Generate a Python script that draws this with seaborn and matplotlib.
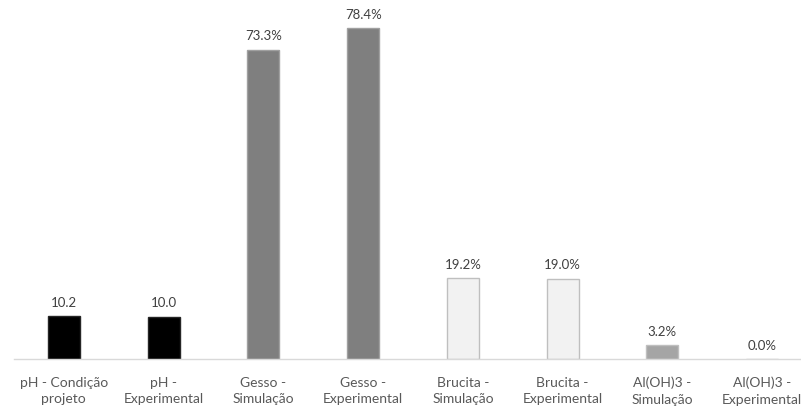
import matplotlib
matplotlib.use("Agg")
import matplotlib.pyplot as plt
import seaborn as sns
import pandas as pd

categories = ["pH - Condição\nprojeto", "pH -\nExperimental", "Gesso -\nSimulação", "Gesso -\nExperimental",
              "Brucita -\nSimulação", "Brucita -\nExperimental", "Al(OH)3 -\nSimulação", "Al(OH)3 -\nExperimental"]
values = [10.2, 10.0, 73.3, 78.4, 19.2, 19.0, 3.2, 0.0]
labels = ["10.2", "10.0", "73.3%", "78.4%", "19.2%", "19.0%", "3.2%", "0.0%"]
fills = ["#000000", "#000000", "#7f7f7f", "#7f7f7f", "#f2f2f2", "#f2f2f2", "#a5a5a5", "#a5a5a5"]
edges = ["#262626", "#262626", "#a0a0a0", "#a0a0a0", "#bfbfbf", "#bfbfbf", "#bfbfbf", "#bfbfbf"]

sns.set_theme(style="white")
plt.rcParams["font.family"] = ["Lato", "DejaVu Sans"]

df = pd.DataFrame({"cat": categories, "val": values})
fig = plt.figure(figsize=(8.01, 4.10), dpi=100)
ax = fig.add_axes([14/801, 50/410, 798/801, 358.7/410])
sns.barplot(data=df, x="cat", y="val", hue="cat", palette=fills, dodge=False,
            width=0.32, legend=False, ax=ax)
for p, ec in zip(ax.patches, edges):
    p.set_edgecolor(ec)
    p.set_linewidth(1.0)
for i, (v, t) in enumerate(zip(values, labels)):
    ax.text(i, v + 2.0, t, ha="center", va="bottom", fontsize=9.5, color="#404040")
ax.set_ylim(0, 85)
ax.set_xlim(-0.5, 7.5)
ax.set_xlabel("")
ax.set_ylabel("")
ax.set_yticks([])
for s in ["top", "right", "left"]:
    ax.spines[s].set_visible(False)
ax.spines["bottom"].set_color("#d9d9d9")
ax.spines["bottom"].set_linewidth(1.0)
ax.tick_params(axis="x", length=0, pad=12, labelsize=10, labelcolor="#595959")
for lab in ax.get_xticklabels():
    lab.set_linespacing(1.45)
fig.savefig("out.png", dpi=100)
